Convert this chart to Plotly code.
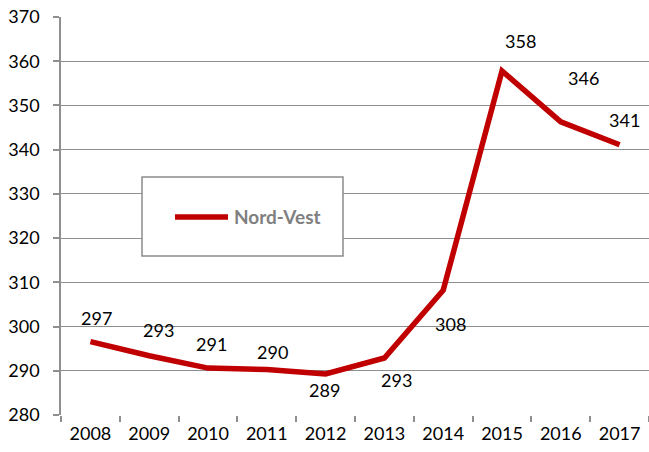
import plotly.graph_objects as go

years = ["2008", "2009", "2010", "2011", "2012", "2013", "2014", "2015", "2016", "2017"]
values = [296.6, 293.4, 290.6, 290.3, 289.3, 292.9, 308.2, 357.8, 346.3, 341.1]
labels = ["297", "293", "291", "290", "289", "293", "308", "358", "346", "341"]
label_offsets = [(6, 24), (9, 26), (3, 24), (6, 17), (-1, -16), (12, -22), (7, -34), (18, 30), (23, 44), (5, 25)]
series_name = "Nord-Vest"

FONT = "Lato"
GRID = "#8f8f8f"
RED = "#c00000"

fig = go.Figure()
fig.add_trace(go.Scatter(
    x=years, y=values, mode="lines", name=series_name, showlegend=False,
    line=dict(color=RED, width=5.5, shape="linear"),
))

# on a category axis, annotation x is the category index
for i, (v, lab, (dx, dy)) in enumerate(zip(values, labels, label_offsets)):
    fig.add_annotation(x=i, y=v, text=lab, showarrow=False,
                       xshift=dx, yshift=dy,
                       font=dict(family=FONT, size=18, color="#000000"))

# legend box (drawn manually to mimic the boxed Excel legend)
def px(xp):
    return (xp - 61) / 588

def py(yp):
    return (415 - yp) / 398

fig.add_shape(type="rect", xref="paper", yref="paper",
              x0=px(142), x1=px(343), y0=py(256), y1=py(177),
              line=dict(color="#8c8c8c", width=1.5), fillcolor="white", layer="above")
fig.add_shape(type="line", xref="paper", yref="paper",
              x0=px(175), x1=px(228), y0=py(217), y1=py(217),
              line=dict(color=RED, width=5.5), layer="above")
fig.add_annotation(xref="paper", yref="paper", x=px(232), y=py(217),
                   xanchor="left", yanchor="middle", showarrow=False,
                   text="<b>" + series_name + "</b>",
                   font=dict(family=FONT, size=19, color="#7f7f7f"))

fig.update_layout(
    width=649, height=452,
    margin=dict(l=61, r=0, t=17, b=37, autoexpand=False),
    paper_bgcolor="white", plot_bgcolor="white",
    font=dict(family=FONT, size=18, color="#000000"),
    showlegend=False,
    xaxis=dict(
        type="category", showgrid=False, showline=False, automargin=False,
        range=[-0.5, 9.5],
        ticks="outside", tickson="boundaries", ticklen=6, tickwidth=1.5, tickcolor=GRID,
        tickfont=dict(family=FONT, size=18), ticklabelstandoff=6,
        zeroline=False, fixedrange=True,
    ),
    yaxis=dict(
        range=[280, 370], dtick=10, tick0=280, automargin=False,
        showgrid=True, gridcolor=GRID, gridwidth=1,
        showline=True, linecolor=GRID, linewidth=1.5,
        ticks="outside", ticklen=6, tickwidth=1.5, tickcolor=GRID,
        tickfont=dict(family=FONT, size=18), ticklabelstandoff=10,
        zeroline=False, fixedrange=True,
    ),
)

fig.write_html("out.html", config={"displayModeBar": False},
               post_script="document.body.style.margin='0';document.body.style.overflow='hidden';")
